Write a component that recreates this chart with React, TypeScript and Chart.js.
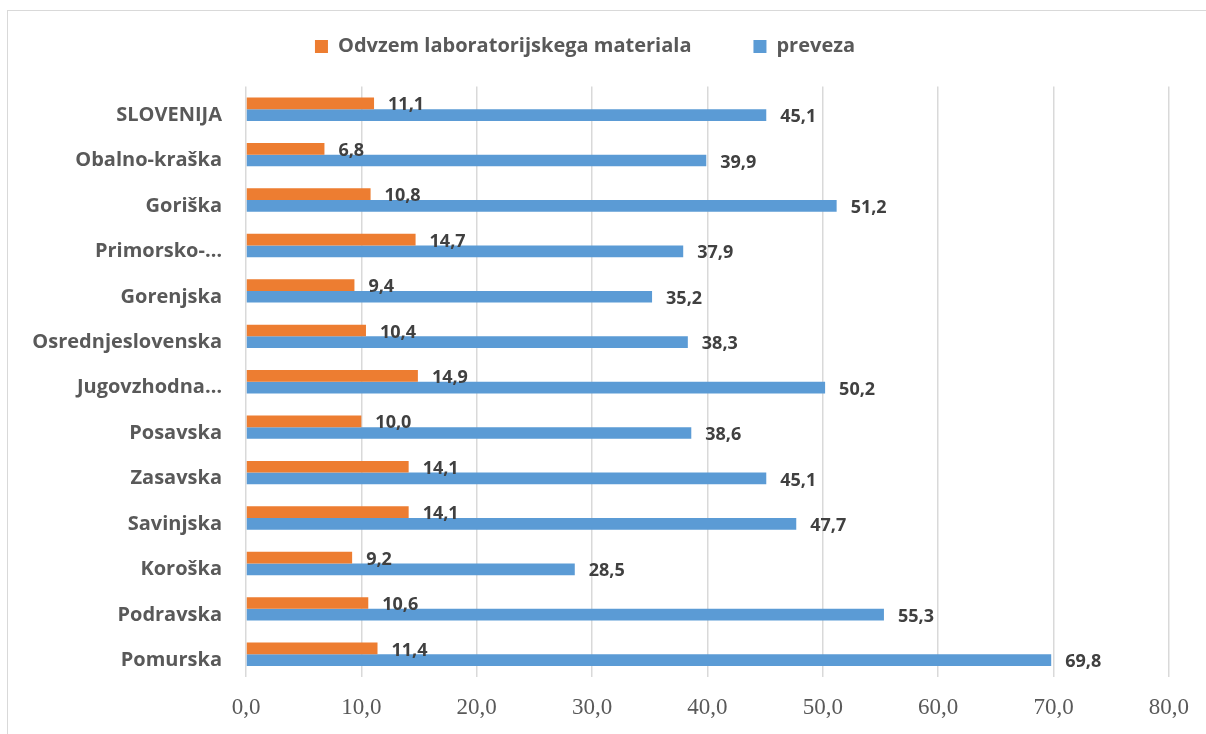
import React, { useEffect, useRef } from "react";
import { Chart, registerables } from "chart.js";

Chart.register(...registerables);

const categories = [
  "SLOVENIJA",
  "Obalno-kraška",
  "Goriška",
  "Primorsko-…",
  "Gorenjska",
  "Osrednjeslovenska",
  "Jugovzhodna…",
  "Posavska",
  "Zasavska",
  "Savinjska",
  "Koroška",
  "Podravska",
  "Pomurska",
];
const seriesNames = ["Odvzem laboratorijskega materiala", "preveza"];
const odvzem = [11.1, 6.8, 10.8, 14.7, 9.4, 10.4, 14.9, 10.0, 14.1, 14.1, 9.2, 10.6, 11.4];
const preveza = [45.1, 39.9, 51.2, 37.9, 35.2, 38.3, 50.2, 38.6, 45.1, 47.7, 28.5, 55.3, 69.8];
const xTickLabels = ["0,0", "10,0", "20,0", "30,0", "40,0", "50,0", "60,0", "70,0", "80,0"];

const SANS = "'Open Sans', 'Noto Sans', sans-serif";
const SERIF = "'Liberation Serif', serif";

const valueLabels = {
  id: "valueLabels",
  afterDatasetsDraw(chart: any) {
    const ctx = chart.ctx;
    ctx.save();
    ctx.font = `bold 18px ${SANS}`;
    ctx.fillStyle = "#404040";
    ctx.textAlign = "left";
    ctx.textBaseline = "middle";
    chart.data.datasets.forEach((ds: any, di: number) => {
      const meta = chart.getDatasetMeta(di);
      meta.data.forEach((bar: any, i: number) => {
        const v = ds.data[i] as number;
        ctx.fillText(v.toFixed(1).replace(".", ","), bar.x + 14, bar.y + 2);
      });
    });
    ctx.restore();
  },
};

const legendSpacer = {
  id: "legendSpacer",
  beforeInit(chart: any) {
    const legend = chart.legend;
    if (!legend) return;
    const origFit = legend.fit;
    legend.fit = function () {
      origFit.call(this);
      this.height += 20;
    };
  },
};

export default function App() {
  const canvasRef = useRef<HTMLCanvasElement | null>(null);

  useEffect(() => {
    if (!canvasRef.current) return;
    const chart = new Chart(canvasRef.current, {
      type: "bar",
      data: {
        labels: categories,
        datasets: [
          {
            label: seriesNames[0],
            data: odvzem,
            backgroundColor: "#ED7D31",
            categoryPercentage: 0.515,
            barPercentage: 1,
          },
          {
            label: seriesNames[1],
            data: preveza,
            backgroundColor: "#5B9BD5",
            categoryPercentage: 0.515,
            barPercentage: 1,
          },
        ],
      },
      options: {
        indexAxis: "y",
        animation: false,
        responsive: true,
        maintainAspectRatio: false,
        layout: { padding: { top: -25.5, right: 36, bottom: 0, left: 0 } },
        plugins: {
          tooltip: { enabled: false },
          legend: {
            position: "top",
            align: "center",
            labels: {
              boxWidth: 13,
              boxHeight: 13,
              padding: 62,
              color: "#595959",
              font: { family: SANS, size: 20, weight: "bold" },
            },
          },
        },
        scales: {
          x: {
            type: "linear",
            min: 0,
            max: 80,
            ticks: {
              stepSize: 10,
              color: "#595959",
              padding: 17,
              font: { family: SERIF, size: 23 },
              callback: (_v: any, i: number) => xTickLabels[i],
            },
            grid: { color: "#d9d9d9", lineWidth: 1.5, drawTicks: false },
            border: { display: false },
            afterFit: (scale: any) => {
              scale.height = 57;
            },
          },
          y: {
            type: "category",
            ticks: {
              color: "#595959",
              padding: 24,
              labelOffset: 6,
              font: { family: SANS, size: 20, weight: "bold" },
            },
            grid: { display: false, drawTicks: false },
            border: { display: false },
            afterFit: (scale: any) => {
              scale.width = 246;
            },
          },
        },
      },
      plugins: [valueLabels, legendSpacer],
    });
    return () => chart.destroy();
  }, []);

  return (
    <div style={{ position: "fixed", left: 0, top: 0, width: 1206, height: 734, background: "#fff" }}>
      <div
        style={{
          position: "absolute",
          left: 7,
          top: 10,
          right: 0,
          bottom: 0,
          borderTop: "1px solid #d9d9d9",
          borderLeft: "1px solid #d9d9d9",
        }}
      />
      <canvas ref={canvasRef} style={{ position: "absolute", left: 0, top: 0 }} />
    </div>
  );
}
